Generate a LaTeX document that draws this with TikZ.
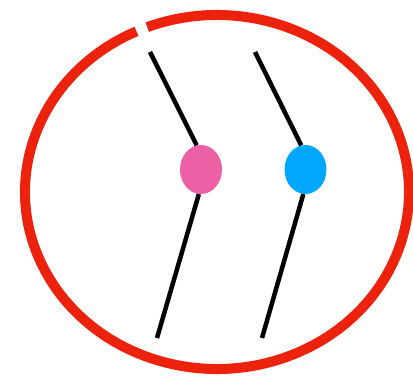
\documentclass[tikz,border=0pt]{standalone}
\usepackage{xcolor}
\usetikzlibrary{shapes.geometric}
\definecolor{RingRed}{RGB}{236,34,12}
\definecolor{DotPink}{RGB}{238,96,166}
\definecolor{DotBlue}{RGB}{0,166,255}
\begin{document}
\begin{tikzpicture}[x=1pt,y=-1pt,
        dot/.style={ellipse,minimum width=42pt,minimum height=49pt,inner sep=0pt},
        strand/.style={line width=4.5pt,black}]
        \useasboundingbox (0,0) rectangle (413,382);

        % outer ring with a small gap at the top
        \draw[RingRed,line width=10pt] (217,192) ++(114.8:192 and -177)
            arc[start angle=114.8,end angle=471.3,x radius=192,y radius=-177];

        % the two dots
        \node[dot,fill=DotPink] (pink) at (201,169.5) {};
        \node[dot,fill=DotBlue] (blue) at (305.5,169.5) {};

        \coordinate (pt) at (150,52);  \coordinate (pb) at (157,338);
        \coordinate (bt) at (255,52);  \coordinate (bb) at (262,338);

        \draw[strand] (pt)--(pink.100); \draw[strand] (pink.265)--(pb);
        \draw[strand] (bt)--(blue.100); \draw[strand] (blue.265)--(bb);
      \end{tikzpicture}
\end{document}
